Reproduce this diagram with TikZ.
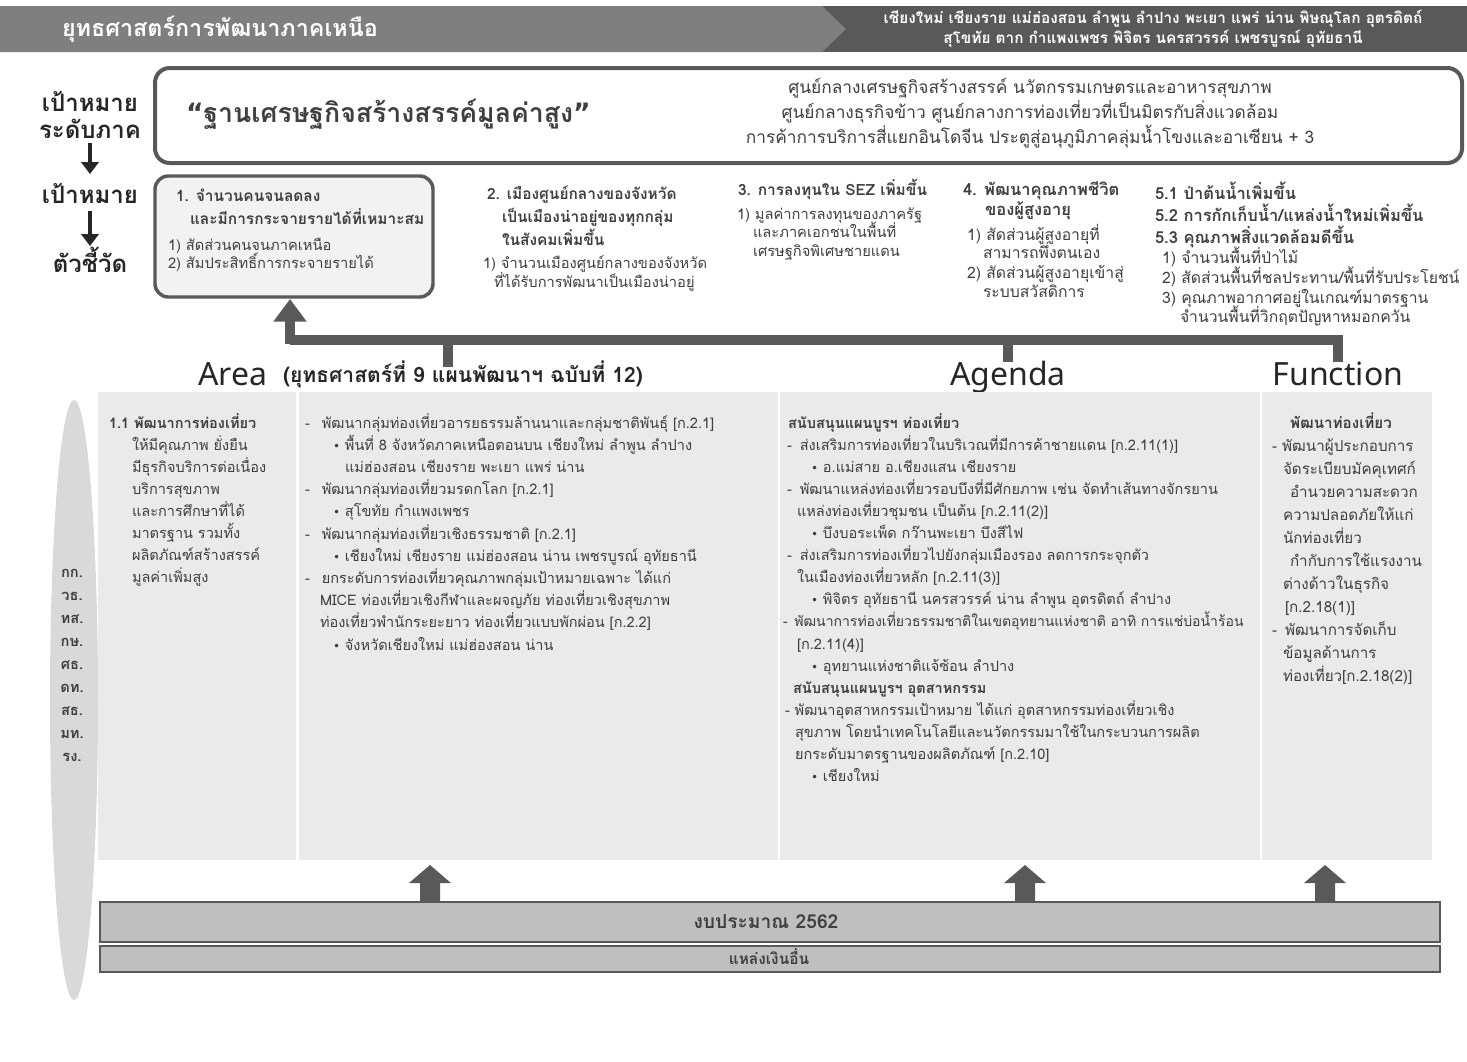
\documentclass[tikz,border=0pt]{standalone}
\usepackage{fontspec}
\setmainfont{Loma}[Script=Thai]
\newfontfamily\latinfont{Noto Sans}
\newfontfamily\symfont{DejaVu Sans}
\usetikzlibrary{arrows.meta}
\definecolor{bandL}{HTML}{7F7F7F}
\definecolor{bandD}{HTML}{595959}
\definecolor{boxline}{HTML}{595959}
\definecolor{txt}{HTML}{3F3F3F}
\definecolor{panel}{HTML}{EAEAEA}
\definecolor{ellfill}{HTML}{D9D9D9}
\definecolor{barfill}{HTML}{BFBFBF}
\definecolor{indfill}{HTML}{F2F2F2}
\definecolor{darkarrow}{HTML}{262626}
\newcommand\bul{{\symfont\fontsize{9}{9}\selectfont •}}
\newcommand\fsz[1]{\fontsize{#1}{#1}\selectfont}
\tikzset{
  every node/.style={inner sep=0pt, outer sep=0pt},
  ln/.style={anchor=base west, text=txt, font=\fsz{10.9}},
  lnb/.style={anchor=base west, text=txt, font=\bfseries\fsz{10.9}},
  ind/.style={anchor=base west, text=txt, font=\fsz{11}},
  indb/.style={anchor=base west, text=txt, font=\bfseries\fsz{11.6}},
  indL/.style={anchor=base west, text=txt, font=\fsz{11.8}},
  indLb/.style={anchor=base west, text=txt, font=\bfseries\fsz{12.4}},
  lvl/.style={anchor=base, text=black!85, font=\bfseries\fsz{18}},
  goalbox/.style={draw=boxline, line width=3pt, rounded corners=11pt, fill=white},
  indbox/.style={draw=boxline, line width=2.6pt, rounded corners=10pt, fill=indfill},
  downarrow/.style={draw=darkarrow, line width=3.4pt, -{Triangle[width=13pt,length=9pt]}},
  bigline/.style={draw=bandD, line width=7.5pt},
  bigtip/.style={draw=bandD, line width=7.5pt, -{Triangle[width=24pt,length=17pt]}},
  blockarrow/.style={fill=bandD, draw=none},
  bar/.style={draw=bandD, line width=0.8pt, fill=barfill},
  tag/.style={anchor=base, text=txt, font=\bfseries\fsz{11}},
  sect/.style={anchor=base, text=black!85, font=\latinfont\fsz{24}},
}
\begin{document}
\begin{tikzpicture}[x=0.75pt, y=-0.75pt]
\useasboundingbox (0,0) rectangle (1467,1061);
% header
\fill[bandD] (800,6) rectangle (1467,52);
\fill[bandL] (0,6) -- (822,6) -- (846,29) -- (822,52) -- (0,52) -- cycle;
\node[anchor=west, text=white, font=\bfseries\fsz{17.5}] (title) at (62,29) {ยุทธศาสตร์การพัฒนาภาคเหนือ};
\node[anchor=base, text=white, font=\bfseries\fsz{11.5}] (prov1) at (1153,23) {เชียงใหม่ เชียงราย แม่ฮ่องสอน ลำพูน ลำปาง พะเยา แพร่ น่าน พิษณุโลก อุตรดิตถ์};
\node[anchor=base, text=white, font=\bfseries\fsz{11.5}] (prov2) at (1153,43) {สุโขทัย ตาก กำแพงเพชร พิจิตร นครสวรรค์ เพชรบูรณ์ อุทัยธานี};

% level labels
\node[lvl] (lv1a) at (90,111) {เป้าหมาย};
\node[lvl] (lv1b) at (90,138) {ระดับภาค};
\node[lvl] (lv2) at (90,203) {เป้าหมาย};
\node[lvl] (lv3) at (90,272) {ตัวชี้วัด};
\draw[downarrow] (lv1b.south) ++(0,5) coordinate (a1s) -- (90,174);
\draw[downarrow] (lv2.south) ++(0,8) coordinate (a2s) -- (90,246);

% regional goal box
\path[goalbox] (155,68) rectangle (1462,163);
\node[anchor=base west, text=txt, font=\bfseries\fsz{20}] (vision) at (186,122) {{\symfont “}ฐานเศรษฐกิจสร้างสรรค์มูลค่าสูง{\symfont ”}};
\node[anchor=base, text=txt, font=\fsz{13}] (g1) at (1030,93) {ศูนย์กลางเศรษฐกิจสร้างสรรค์ นวัตกรรมเกษตรและอาหารสุขภาพ};
\node[anchor=base, text=txt, font=\fsz{13}] (g2) at (1030,118) {ศูนย์กลางธุรกิจข้าว ศูนย์กลางการท่องเที่ยวที่เป็นมิตรกับสิ่งแวดล้อม};
\node[anchor=base, text=txt, font=\fsz{13}] (g3) at (1030,143) {การค้าการบริการสี่แยกอินโดจีน ประตูสู่อนุภูมิภาคลุ่มน้ำโขงและอาเซียน + 3};

% indicator box 1
\path[indbox] (155,176) rectangle (433,297);
\coordinate (box1s) at (290,299);
\node[indb] (i1a) at (176,201) {1. จำนวนคนจนลดลง};
\node[indb] (i1b) at (190,224) {และมีการกระจายรายได้ที่เหมาะสม};
\node[ind] (i1c) at (168,250) {1) สัดส่วนคนจนภาคเหนือ};
\node[ind] (i1d) at (168,268) {2) สัมประสิทธิ์การกระจายรายได้};
% goal 2
\node[indb] (i2a) at (487,199) {2. เมืองศูนย์กลางของจังหวัด};
\node[indb] (i2b) at (502,222) {เป็นเมืองน่าอยู่ของทุกกลุ่ม};
\node[indb] (i2c) at (502,245) {ในสังคมเพิ่มขึ้น};
\node[ind] (i2d) at (483,268) {1) จำนวนเมืองศูนย์กลางของจังหวัด};
\node[ind] (i2e) at (494,287) {ที่ได้รับการพัฒนาเป็นเมืองน่าอยู่};
% goal 3
\node[indb] (i3a) at (738,195) {3. การลงทุนใน SEZ เพิ่มขึ้น};
\node[ind] (i3b) at (737,219) {1) มูลค่าการลงทุนของภาครัฐ};
\node[ind] (i3c) at (753,237) {และภาคเอกชนในพื้นที่};
\node[ind] (i3d) at (753,256) {เศรษฐกิจพิเศษชายแดน};
% goal 4
\node[indLb] (i4a) at (963,195) {4. พัฒนาคุณภาพชีวิต};
\node[indLb] (i4b) at (985,215) {ของผู้สูงอายุ};
\node[indL] (i4c) at (967,240) {1) สัดส่วนผู้สูงอายุที่};
\node[indL] (i4d) at (983,258) {สามารถพึ่งตนเอง};
\node[indL] (i4e) at (967,278) {2) สัดส่วนผู้สูงอายุเข้าสู่};
\node[indL] (i4f) at (983,297) {ระบบสวัสดิการ};
% goal 5
\node[indLb] (i5a) at (1155,199) {5.1 ป่าต้นน้ำเพิ่มขึ้น};
\node[indLb] (i5b) at (1155,221) {5.2 การกักเก็บน้ำ/แหล่งน้ำใหม่เพิ่มขึ้น};
\node[indLb] (i5c) at (1155,243) {5.3 คุณภาพสิ่งแวดล้อมดีขึ้น};
\node[indL] (i5d) at (1162,263) {1) จำนวนพื้นที่ป่าไม้};
\node[indL] (i5e) at (1162,283) {2) สัดส่วนพื้นที่ชลประทาน/พื้นที่รับประโยชน์};
\node[indL] (i5f) at (1162,303) {3) คุณภาพอากาศอยู่ในเกณฑ์มาตรฐาน};
\node[indL] (i5g) at (1180,322) {จำนวนพื้นที่วิกฤตปัญหาหมอกควัน};

% big connector
\coordinate (jA) at (290,340);
\coordinate (jArea) at (448,340);
\coordinate (jAg) at (1008,340);
\coordinate (jFn) at (1338,340);
\coordinate (eArea) at (448,367);
\coordinate (eAg) at (1008,362);
\coordinate (eFn) at (1338,362);
\draw[bigline] (eFn) -- (jFn) -- (jA);
\draw[bigline] (jArea) -- (eArea);
\draw[bigline] (jAg) -- (eAg);
\draw[bigtip] (290,343.75) -- (box1s);

% section labels
\node[sect, anchor=base west] (area) at (198,385) {Area};
\node[anchor=base west, text=black!85, font=\bfseries\fsz{15.8}] (areasub) at (283,382) {(ยุทธศาสตร์ที่ 9 แผนพัฒนาฯ ฉบับที่ 12)};
\node[sect] (agenda) at (1008,385) {Agenda};
\node[sect] (function) at (1338,385) {Function};

% main panel
\fill[panel] (98,392) rectangle (1432,860);
\draw[white, line width=2pt] (297.5,392) -- (297.5,860) (779,392) -- (779,860) (1261,392) -- (1261,860);
\fill[ellfill] (74,700) ellipse [x radius=24, y radius=300];
\foreach \t [count=\i] in {กก.,วธ.,ทส.,กษ.,ศธ.,ดท.,สธ.,มท.,รง.}
  \node[tag] (ag\i) at (72,577+23*\i-23) {\t};

% column 1
\node[lnb] (c1t) at (109,428) {1.1 พัฒนาการท่องเที่ยว};
\foreach \t [count=\i] in {ให้มีคุณภาพ ยั่งยืน,มีธุรกิจบริการต่อเนื่อง,บริการสุขภาพ,และการศึกษาที่ได้,มาตรฐาน รวมทั้ง,ผลิตภัณฑ์สร้างสรรค์,มูลค่าเพิ่มสูง}
  \node[ln] (c1l\i) at (132,428+22*\i) {\t};

% column 2 (Area)
\node[ln] (c2l1) at (305,428) {-\hspace{9pt}พัฒนากลุ่มท่องเที่ยวอารยธรรมล้านนาและกลุ่มชาติพันธุ์ [ก.2.1]};
\node[ln] (c2l2) at (333,450.2) {\bul\ พื้นที่ 8 จังหวัดภาคเหนือตอนบน เชียงใหม่ ลำพูน ลำปาง};
\node[ln] (c2l3) at (345,472.4) {แม่ฮ่องสอน เชียงราย พะเยา แพร่ น่าน};
\node[ln] (c2l4) at (305,494.6) {-\hspace{9pt}พัฒนากลุ่มท่องเที่ยวมรดกโลก [ก.2.1]};
\node[ln] (c2l5) at (333,516.8) {\bul\ สุโขทัย กำแพงเพชร};
\node[ln] (c2l6) at (305,539) {-\hspace{9pt}พัฒนากลุ่มท่องเที่ยวเชิงธรรมชาติ [ก.2.1]};
\node[ln] (c2l7) at (333,561.2) {\bul\ เชียงใหม่ เชียงราย แม่ฮ่องสอน น่าน เพชรบูรณ์ อุทัยธานี};
\node[ln] (c2l8) at (305,583.4) {-\hspace{9pt}ยกระดับการท่องเที่ยวคุณภาพกลุ่มเป้าหมายเฉพาะ ได้แก่};
\node[ln] (c2l9) at (320,605.6) {MICE ท่องเที่ยวเชิงกีฬาและผจญภัย ท่องเที่ยวเชิงสุขภาพ};
\node[ln] (c2l10) at (320,627.8) {ท่องเที่ยวพำนักระยะยาว ท่องเที่ยวแบบพักผ่อน [ก.2.2]};
\node[ln] (c2l11) at (333,650) {\bul\ จังหวัดเชียงใหม่ แม่ฮ่องสอน น่าน};

% column 3 (Agenda)
\node[lnb] (c3l1) at (788,428) {สนับสนุนแผนบูรฯ ท่องเที่ยว};
\node[ln] (c3l2) at (787,450.1) {-\hspace{6pt}ส่งเสริมการท่องเที่ยวในบริเวณที่มีการค้าชายแดน [ก.2.11(1)]};
\node[ln] (c3l3) at (811,472.2) {\bul\ อ.แม่สาย อ.เชียงแสน เชียงราย};
\node[ln] (c3l4) at (787,494.3) {-\hspace{6pt}พัฒนาแหล่งท่องเที่ยวรอบบึงที่มีศักยภาพ เช่น จัดทำเส้นทางจักรยาน};
\node[ln] (c3l5) at (797,516.4) {แหล่งท่องเที่ยวชุมชน เป็นต้น [ก.2.11(2)]};
\node[ln] (c3l6) at (811,538.5) {\bul\ บึงบอระเพ็ด กว๊านพะเยา บึงสีไฟ};
\node[ln] (c3l7) at (787,560.6) {-\hspace{6pt}ส่งเสริมการท่องเที่ยวไปยังกลุ่มเมืองรอง ลดการกระจุกตัว};
\node[ln] (c3l8) at (797,582.7) {ในเมืองท่องเที่ยวหลัก [ก.2.11(3)]};
\node[ln] (c3l9) at (811,604.8) {\bul\ พิจิตร อุทัยธานี นครสวรรค์ น่าน ลำพูน อุตรดิตถ์ ลำปาง};
\node[ln, font=\fsz{10.5}] (c3l10) at (783,626.9) {-\hspace{5pt}พัฒนาการท่องเที่ยวธรรมชาติในเขตอุทยานแห่งชาติ อาทิ การแช่บ่อน้ำร้อน};
\node[ln] (c3l11) at (797,649) {[ก.2.11(4)]};
\node[ln] (c3l12) at (811,671.1) {\bul\ อุทยานแห่งชาติแจ้ซ้อน ลำปาง};
\node[lnb] (c3l13) at (793,693.2) {สนับสนุนแผนบูรฯ อุตสาหกรรม};
\node[ln] (c3l14) at (785,715.3) {- พัฒนาอุตสาหกรรมเป้าหมาย ได้แก่ อุตสาหกรรมท่องเที่ยวเชิง};
\node[ln] (c3l15) at (795,737.4) {สุขภาพ โดยนำเทคโนโลยีและนวัตกรรมมาใช้ในกระบวนการผลิต};
\node[ln] (c3l16) at (795,759.5) {ยกระดับมาตรฐานของผลิตภัณฑ์ [ก.2.10]};
\node[ln] (c3l17) at (811,781.6) {\bul\ เชียงใหม่};

% column 4 (Function)
\node[lnb, font=\bfseries\fsz{11.4}] (c4l1) at (1290,428) {พัฒนาท่องเที่ยว};
\node[ln, font=\fsz{11.4}] (c4l2) at (1272,451) {- พัฒนาผู้ประกอบการ};
\node[ln, font=\fsz{11.4}] (c4l3) at (1283,474) {จัดระเบียบมัคคุเทศก์};
\node[ln, font=\fsz{11.4}] (c4l4) at (1290,497) {อำนวยความสะดวก};
\node[ln, font=\fsz{11.4}] (c4l5) at (1283,520) {ความปลอดภัยให้แก่};
\node[ln, font=\fsz{11.4}] (c4l6) at (1283,543) {นักท่องเที่ยว};
\node[ln, font=\fsz{11.4}] (c4l7) at (1290,566) {กำกับการใช้แรงงาน};
\node[ln, font=\fsz{11.4}] (c4l8) at (1283,589) {ต่างด้าวในธุรกิจ};
\node[ln, font=\fsz{11.4}] (c4l9) at (1285,612) {[ก.2.18(1)]};
\node[ln, font=\fsz{11.4}] (c4l10) at (1272,635) {-\hspace{6pt}พัฒนาการจัดเก็บ};
\node[ln, font=\fsz{11.4}] (c4l11) at (1283,658) {ข้อมูลด้านการ};
\node[ln, font=\fsz{11.4}] (c4l12) at (1283,681) {ท่องเที่ยว[ก.2.18(2)]};

% budget bars
\path[bar] (100,902) rectangle (1440,942);
\node[anchor=base, text=txt, font=\bfseries\fsz{14.4}] (budget) at (766,928) {งบประมาณ 2562};
\path[bar] (100,946) rectangle (1440,972);
\node[anchor=base, text=txt, font=\bfseries\fsz{11.6}] (other) at (769,964) {แหล่งเงินอื่น};
\foreach \cx [count=\i] in {430,1025,1325} {
  \fill[blockarrow] (\cx,865) -- (\cx+21,883) -- (\cx+10,883) -- (\cx+10,901) -- (\cx-10,901) -- (\cx-10,883) -- (\cx-21,883) -- cycle;
  \coordinate (up\i) at (\cx,865);
}
\end{tikzpicture}
\end{document}
